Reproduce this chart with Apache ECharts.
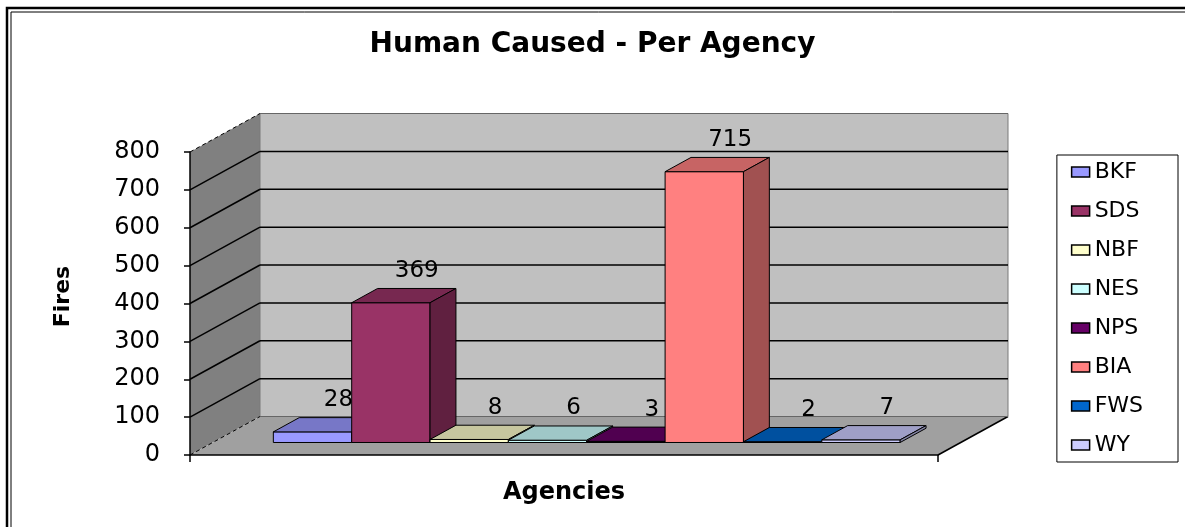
<!DOCTYPE html>
<html>
<head>
<meta charset="utf-8">
<title>Human Caused - Per Agency</title>
<script src="https://cdn.jsdelivr.net/npm/echarts@6/dist/echarts.min.js"></script>
<style>
  html, body { margin: 0; padding: 0; background: #fff; }
  #chart { width: 1185px; height: 527px; }
</style>
</head>
<body>
<div id="chart"></div>
<script>
// data
const agencies = ['BKF', 'SDS', 'NBF', 'NES', 'NPS', 'BIA', 'FWS', 'WY'];
const fires = [28, 369, 8, 6, 3, 715, 2, 7];
const barColors = ['#9999FF', '#993366', '#FFFFCC', '#CCFFFF', '#660066', '#FF8080', '#0066CC', '#CCCCFF'];
const yTicks = [0, 100, 200, 300, 400, 500, 600, 700, 800];

const FONT = 'DejaVu Sans';

// 3D look: depth of the box and where bars stand in it
const DX = 70, DY = -38.5;
const barFront = 0.325, barDepth = 0.37;
const groupRatio = 0.838;

function shade(hex, k) {
  const n = parseInt(hex.slice(1), 16);
  const r = Math.round(((n >> 16) & 255) * k);
  const g = Math.round(((n >> 8) & 255) * k);
  const b = Math.round((n & 255) * k);
  return 'rgb(' + r + ',' + g + ',' + b + ')';
}

function line(x1, y1, x2, y2, style) {
  return { type: 'line', shape: { x1, y1, x2, y2 }, style };
}

// walls, floor and gridlines
function renderFrame(params, api) {
  const cs = params.coordSys;
  const x0 = cs.x, x1 = cs.x + cs.width;
  const yTop = api.coord([0, yTicks[yTicks.length - 1]])[1];
  const yBot = api.coord([0, 0])[1];
  const children = [];

  children.push({
    type: 'polygon',
    shape: { points: [[x0, yTop], [x0 + DX, yTop + DY], [x0 + DX, yBot + DY], [x0, yBot]] },
    style: { fill: '#808080', stroke: null }
  });
  children.push({
    type: 'rect',
    shape: { x: x0 + DX, y: yTop + DY, width: cs.width, height: yBot - yTop },
    style: { fill: '#c0c0c0', stroke: '#7a7a7a', lineWidth: 1 }
  });
  children.push({
    type: 'polygon',
    shape: { points: [[x0, yBot], [x0 + DX, yBot + DY], [x1 + DX, yBot + DY], [x1, yBot]] },
    style: { fill: '#a0a0a0', stroke: null }
  });
  children.push(line(x1, yBot, x1 + DX, yBot + DY, { stroke: '#000', lineWidth: 1.5 }));

  yTicks.forEach(function (v, k) {
    const y = api.coord([0, v])[1];
    const edge = k === 0 || k === yTicks.length - 1;
    children.push(line(x0, y, x0 + DX, y + DY, edge
      ? { stroke: '#000', lineWidth: 1, lineDash: [4, 3] }
      : { stroke: '#000', lineWidth: 1.5 }));
    children.push(line(x0 + DX, y + DY, x1 + DX, y + DY, edge
      ? { stroke: '#666', lineWidth: 1 }
      : { stroke: '#000', lineWidth: 1.5 }));
  });

  return { type: 'group', children };
}

function makeBarRenderer(i) {
  return function (params, api) {
    const cs = params.coordSys;
    const val = api.value(1);
    const ox = barFront * DX, oy = barFront * DY;
    const bx = barDepth * DX, by = barDepth * DY;
    const groupW = cs.width * groupRatio;
    const w = groupW / agencies.length;
    const left = cs.x + (cs.width - groupW) / 2 + i * w + ox;
    const right = left + w;
    const y0 = api.coord([0, 0])[1] + oy;
    const y1 = api.coord([0, val])[1] + oy;
    const color = barColors[i];
    const edge = { stroke: '#000', lineWidth: 1 };

    return {
      type: 'group',
      children: [
        {
          type: 'polygon',
          shape: { points: [[left, y1], [right, y1], [right, y0], [left, y0]] },
          style: Object.assign({ fill: color }, edge)
        },
        {
          type: 'polygon',
          shape: { points: [[left, y1], [left + bx, y1 + by], [right + bx, y1 + by], [right, y1]] },
          style: Object.assign({ fill: shade(color, 0.78) }, edge)
        },
        {
          type: 'polygon',
          shape: { points: [[right, y1], [right + bx, y1 + by], [right + bx, y0 + by], [right, y0]] },
          style: Object.assign({ fill: shade(color, 0.63) }, edge)
        },
        {
          type: 'text',
          style: {
            text: String(val),
            x: (left + right) / 2 + bx,
            y: y1 + by - 6,
            fill: '#000',
            fontSize: 23,
            fontFamily: FONT,
            align: 'center',
            verticalAlign: 'bottom'
          }
        }
      ]
    };
  };
}

const chart = echarts.init(document.getElementById('chart'), null, { renderer: 'canvas' });

const series = [{
  type: 'custom',
  name: 'frame',
  silent: true,
  z: 1,
  renderItem: renderFrame,
  data: [[0, 0]]
}];

agencies.forEach(function (name, i) {
  series.push({
    type: 'custom',
    name: name,
    z: 2,
    itemStyle: { color: barColors[i] },
    renderItem: makeBarRenderer(i),
    data: [[0, fires[i]]]
  });
});

chart.setOption({
  animation: false,
  backgroundColor: '#ffffff',
  textStyle: { fontFamily: FONT },
  title: {
    text: 'Human Caused - Per Agency',
    left: 'center',
    top: 31,
    padding: 0,
    textStyle: { fontFamily: FONT, fontSize: 28, fontWeight: 'bold', color: '#000' }
  },
  legend: {
    data: agencies,
    orient: 'vertical',
    right: 7,
    top: 155,
    padding: [6, 35, 6, 14],
    itemGap: 17,
    itemWidth: 18,
    itemHeight: 10,
    icon: 'rect',
    borderColor: '#000',
    borderWidth: 1,
    itemStyle: { borderColor: '#000', borderWidth: 1.5 },
    textStyle: { fontFamily: FONT, fontSize: 22, color: '#000', lineHeight: 22 }
  },
  grid: { left: 190, right: 247, top: 152, bottom: 72 },
  xAxis: {
    type: 'category',
    data: [''],
    z: 5,
    name: 'Agencies',
    nameLocation: 'middle',
    nameGap: 26,
    nameTextStyle: { fontFamily: FONT, fontSize: 24, fontWeight: 'bold', color: '#000' },
    axisLine: { lineStyle: { color: '#000', width: 1.5 } },
    axisTick: { show: true, length: 7, lineStyle: { color: '#000', width: 1.5 } },
    axisLabel: { show: false },
    splitLine: { show: false }
  },
  yAxis: {
    type: 'value',
    min: 0,
    max: 800,
    interval: 100,
    z: 5,
    name: 'Fires',
    nameLocation: 'middle',
    nameRotate: 90,
    nameGap: 116,
    nameTextStyle: { fontFamily: FONT, fontSize: 22, fontWeight: 'bold', color: '#000', padding: [0, 0, 0, 14] },
    axisLine: { show: true, lineStyle: { color: '#000', width: 1.5 } },
    axisTick: { show: true, length: 6, lineStyle: { color: '#000', width: 1.5 } },
    axisLabel: { margin: 30, fontFamily: FONT, fontSize: 24, color: '#000' },
    splitLine: { show: false }
  },
  graphic: [
    { type: 'rect', silent: true, shape: { x: 7, y: 8, width: 1400, height: 700 },
      style: { fill: null, stroke: '#000', lineWidth: 2.5 } },
    { type: 'rect', silent: true, shape: { x: 11, y: 12, width: 1400, height: 700 },
      style: { fill: null, stroke: '#000', lineWidth: 1 } }
  ],
  series: series
});

window.addEventListener('resize', function () { chart.resize(); });
</script>
</body>
</html>
